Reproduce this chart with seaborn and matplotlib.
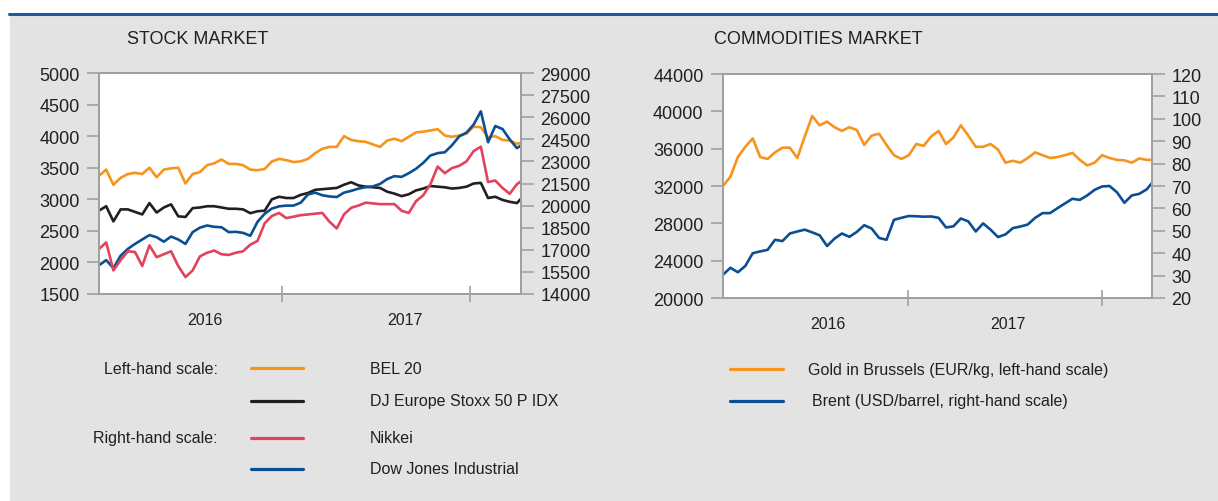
import pandas as pd
import matplotlib.pyplot as plt
import matplotlib.dates as mdates
import matplotlib.ticker as mticker
from matplotlib.lines import Line2D
from matplotlib.patches import Rectangle
import seaborn as sns

sns.set_style("white")
plt.rcParams['font.family'] = ['Liberation Sans', 'DejaVu Sans']

# ---- data (roughly every two weeks) ----
stock_dates = pd.date_range("2016-01-11", periods=60, freq="14D")

bel20 = [3370, 3470, 3230, 3340, 3400, 3420, 3400, 3500, 3350, 3470,
         3490, 3500, 3250, 3400, 3430, 3540, 3570, 3630, 3560, 3560,
         3540, 3470, 3460, 3480, 3600, 3640, 3620, 3590, 3600, 3640,
         3730, 3800, 3830, 3830, 4000, 3940, 3920, 3910, 3870, 3830,
         3930, 3960, 3920, 3990, 4060, 4070, 4090, 4110, 4010, 3990,
         4010, 4040, 4150, 4140, 3980, 4000, 3940, 3930, 3880, 3900]

stoxx50 = [2820, 2890, 2650, 2840, 2840, 2800, 2760, 2940, 2790, 2870,
           2920, 2730, 2720, 2860, 2870, 2890, 2890, 2870, 2850, 2850,
           2840, 2780, 2810, 2820, 3000, 3040, 3020, 3020, 3070, 3100,
           3150, 3160, 3170, 3180, 3230, 3270, 3220, 3200, 3190, 3180,
           3120, 3090, 3050, 3080, 3140, 3170, 3210, 3200, 3190, 3170,
           3180, 3200, 3250, 3260, 3020, 3040, 2990, 2960, 2940, 3060]

nikkei = [17060, 17500, 15600, 16300, 16900, 16850, 15900, 17300, 16500, 16700,
          16900, 15900, 15150, 15600, 16550, 16800, 16950, 16700, 16650, 16800,
          16900, 17350, 17600, 18800, 19300, 19500, 19150, 19250, 19350, 19400,
          19450, 19500, 18900, 18450, 19400, 19850, 20000, 20200, 20150, 20100,
          20100, 20100, 19650, 19500, 20300, 20700, 21450, 22650, 22200, 22550,
          22700, 23000, 23700, 24000, 21600, 21700, 21200, 20800, 21450, 21800]

dow_jones = [15950, 16300, 15750, 16600, 17060, 17400, 17700, 18000, 17850, 17550,
             17900, 17700, 17400, 18200, 18500, 18650, 18560, 18530, 18200, 18220,
             18150, 17950, 18900, 19450, 19800, 19950, 20000, 20000, 20200, 20750,
             20880, 20700, 20620, 20580, 20880, 21000, 21150, 21250, 21300, 21470,
             21800, 22000, 21950, 22200, 22500, 22900, 23400, 23560, 23620, 24100,
             24700, 24950, 25500, 26400, 24300, 25400, 25200, 24500, 23900, 24200]

commo_dates = pd.date_range("2016-01-18", periods=59, freq="14D")

gold = [32000, 33000, 35100, 36200, 37100, 35100, 34900, 35600, 36100, 36100,
        35000, 37300, 39500, 38500, 38900, 38300, 37900, 38300, 38000, 36400,
        37400, 37600, 36400, 35300, 34900, 35300, 36500, 36300, 37300, 37900,
        36500, 37200, 38500, 37400, 36200, 36200, 36500, 35900, 34500, 34700,
        34500, 35000, 35600, 35300, 35000, 35100, 35300, 35550, 34800, 34200,
        34500, 35300, 35000, 34800, 34750, 34500, 34950, 34800, 34800]

brent = [30.4, 33.5, 31.5, 34.3, 40.0, 40.8, 41.5, 46.0, 45.4, 48.8,
         49.7, 50.5, 49.3, 48.0, 43.2, 46.5, 48.8, 47.3, 49.5, 52.5,
         51.0, 46.8, 46.0, 54.9, 55.8, 56.6, 56.5, 56.3, 56.4, 55.8,
         51.5, 52.0, 55.5, 54.2, 49.7, 53.3, 50.5, 47.2, 48.4, 51.2,
         51.9, 52.8, 55.8, 57.9, 57.9, 60.1, 62.2, 64.3, 63.8, 65.8,
         68.3, 69.8, 70.0, 67.2, 62.5, 65.8, 66.5, 68.5, 72.5]

year_labels = ["2016", "2017"]

# ---- styling ----
ORANGE = "#f7941d"
BLACK = "#231f20"
RED = "#e0435b"
BLUE = "#0b4f93"
GREY_BG = "#e3e3e3"
SPINE = "#a0a0a0"
TXT = "#231f20"
LW = 1.9

W, H = 1218, 502


def fx(px):
    return px / W


def fy(py):
    return 1 - py / H


fig = plt.figure(figsize=(W / 100, H / 100), dpi=100)
fig.patch.set_facecolor("white")
fig.add_artist(Rectangle((fx(10), 0), 1 - fx(10), fy(15), transform=fig.transFigure,
                         facecolor=GREY_BG, edgecolor="none", zorder=-5))
fig.add_artist(Line2D([fx(9), 1], [fy(14.5), fy(14.5)], color="#1a5aa0", lw=2.2, zorder=-4))


def style_pair(ax, axr, year_ticks, label_pos):
    ax.set_facecolor("white")
    for a in (ax, axr):
        for s in a.spines.values():
            s.set_color(SPINE)
            s.set_linewidth(1.4)
        a.set_xlabel("")
        a.set_ylabel("")
    ax.xaxis.set_major_locator(mticker.FixedLocator(mdates.date2num(pd.to_datetime(year_ticks))))
    ax.xaxis.set_major_formatter(mticker.NullFormatter())
    ax.xaxis.set_minor_locator(mticker.FixedLocator(mdates.date2num(pd.to_datetime(label_pos))))
    ax.xaxis.set_minor_formatter(mticker.FixedFormatter(year_labels))
    ax.tick_params(axis="x", which="major", bottom=True, direction="inout", length=12,
                   width=1.2, color=SPINE)
    ax.tick_params(axis="x", which="minor", bottom=True, length=0, pad=13,
                   labelsize=11.5, labelcolor=TXT)
    ax.tick_params(axis="y", left=True, right=False, direction="out", length=9, width=1.2,
                   color=SPINE, pad=5, labelsize=13, labelcolor=TXT)
    axr.tick_params(axis="y", right=True, left=False, direction="out", length=9, width=1.2,
                    color=SPINE, pad=5, labelsize=13, labelcolor=TXT)


# ---- stock market ----
ax1 = fig.add_axes([fx(99), fy(295), fx(521) - fx(99), (295 - 74) / H])
ax1r = ax1.twinx()
sns.lineplot(x=stock_dates, y=bel20, ax=ax1, color=ORANGE, lw=LW)
sns.lineplot(x=stock_dates, y=stoxx50, ax=ax1, color=BLACK, lw=LW)
sns.lineplot(x=stock_dates, y=dow_jones, ax=ax1r, color=BLUE, lw=LW)
sns.lineplot(x=stock_dates, y=nikkei, ax=ax1r, color=RED, lw=LW)
ax1.set_ylim(1500, 5000)
ax1.set_yticks(range(1500, 5001, 500))
ax1r.set_ylim(14000, 29000)
ax1r.set_yticks(range(14000, 29001, 1500))
ax1.set_xlim(pd.Timestamp("2016-01-11"), pd.Timestamp("2018-04-10"))
style_pair(ax1, ax1r, ["2017-01-01", "2018-01-01"], ["2016-08-04", "2017-08-28"])

# ---- commodities market ----
ax2 = fig.add_axes([fx(723), fy(299), fx(1152) - fx(723), (299 - 75) / H])
ax2r = ax2.twinx()
sns.lineplot(x=commo_dates, y=gold, ax=ax2, color=ORANGE, lw=LW)
sns.lineplot(x=commo_dates, y=brent, ax=ax2r, color=BLUE, lw=LW)
ax2.set_ylim(20000, 44000)
ax2.set_yticks(range(20000, 44001, 4000))
ax2r.set_ylim(20, 120)
ax2r.set_yticks(range(20, 121, 10))
ax2.set_xlim(pd.Timestamp("2016-01-18"), pd.Timestamp("2018-04-05"))
style_pair(ax2, ax2r, ["2017-01-01", "2018-01-01"], ["2016-08-02", "2017-07-08"])

# ---- titles ----
fig.text(fx(127), fy(39), "STOCK MARKET", fontsize=13, color=TXT, va="center", ha="left")
fig.text(fx(714), fy(39), "COMMODITIES MARKET", fontsize=13, color=TXT, va="center", ha="left")

# ---- legends ----
LEG_FS = 11.5
stock_legend = [("BEL 20", ORANGE, 369), ("DJ Europe Stoxx 50 P IDX", BLACK, 402),
                ("Nikkei", RED, 439), ("Dow Jones Industrial", BLUE, 470)]
for name, col, yy in stock_legend:
    fig.add_artist(Line2D([fx(251), fx(303)], [fy(yy), fy(yy)], color=col, lw=2.3))
    fig.text(fx(370), fy(yy), name, fontsize=LEG_FS, color=TXT, va="center", ha="left")
fig.text(fx(218), fy(369), "Left-hand scale:", fontsize=LEG_FS, color=TXT, va="center", ha="right")
fig.text(fx(218), fy(439), "Right-hand scale:", fontsize=LEG_FS, color=TXT, va="center", ha="right")

commo_legend = [("Gold in Brussels (EUR/kg, left-hand scale)", ORANGE, 370, 808),
                ("Brent (USD/barrel, right-hand scale)", BLUE, 402, 812)]
for name, col, yy, xt in commo_legend:
    fig.add_artist(Line2D([fx(730), fx(783)], [fy(yy), fy(yy)], color=col, lw=2.3))
    fig.text(fx(xt), fy(yy), name, fontsize=LEG_FS, color=TXT, va="center", ha="left")

fig.savefig("out.png", dpi=100, facecolor=fig.get_facecolor())
